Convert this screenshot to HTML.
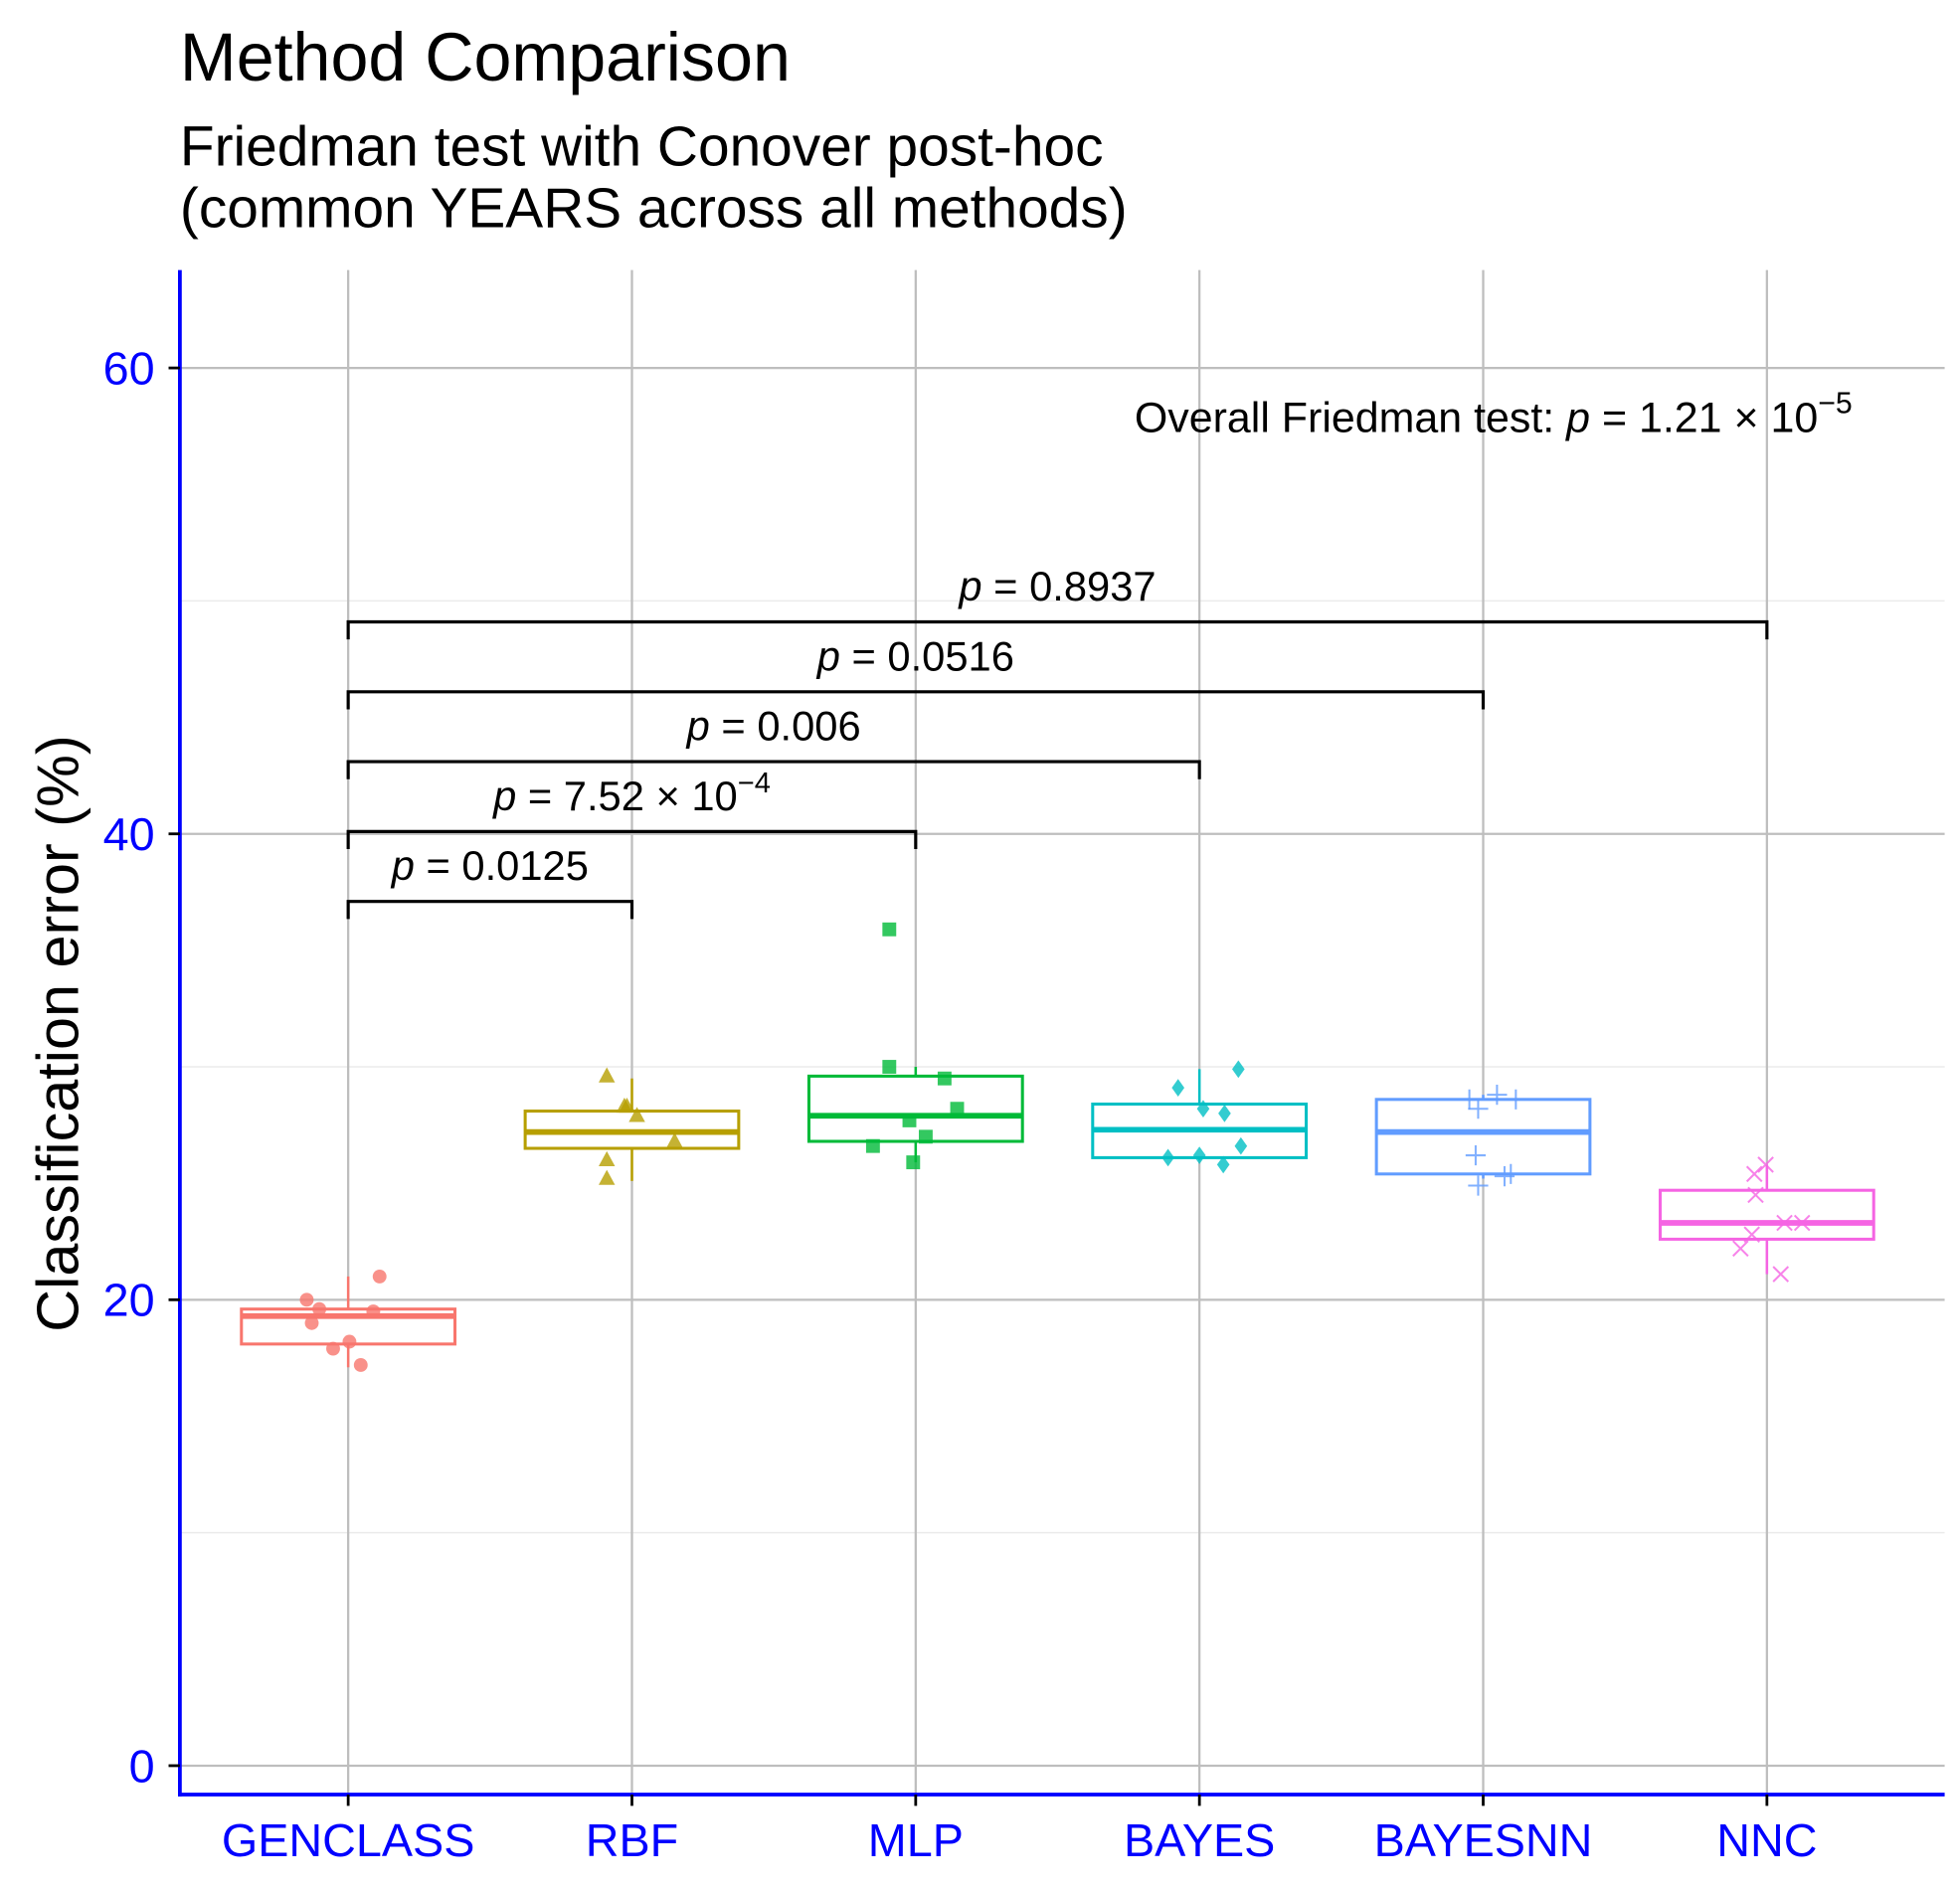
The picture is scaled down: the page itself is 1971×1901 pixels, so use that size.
<!DOCTYPE html>
<html><head><meta charset="utf-8"><style>
html,body{margin:0;padding:0;background:#fff}
svg{display:block;font-family:"Liberation Sans",Arial,sans-serif}
</style></head><body>
<svg id="chart" width="1971" height="1901" viewBox="0 0 1560 1505" xmlns="http://www.w3.org/2000/svg">
<text x="143" y="64" font-size="54" fill="#000">Method Comparison</text>
<text x="143" y="132" font-size="45" fill="#000">Friedman test with Conover post-hoc</text>
<text x="143" y="181" font-size="45" fill="#000">(common YEARS across all methods)</text>
<text transform="translate(62,823) rotate(-90)" text-anchor="middle" font-size="47" fill="#000">Classification error (%)</text>
<g id="grid"></g><g id="marks"></g><g id="axes"></g>
</svg>
<script>
const categories = ["GENCLASS","RBF","MLP","BAYES","BAYESNN","NNC"];
const colors = ["#F8766D","#B79F00","#00BA38","#00BFC4","#619CFF","#F564E3"];
const shapes = ["circle","triangle","square","diamond","plus","cross"];
const q1 = [18.1, 26.5, 26.8, 26.1, 25.4, 22.6];
const medians = [19.3, 27.2, 27.9, 27.3, 27.2, 23.3];
const q3 = [19.6, 28.1, 29.6, 28.4, 28.6, 24.7];
const whiskerLow = [17.1, 25.1, 25.9, 26.0, 25.2, 21.1];
const whiskerHigh = [21.0, 29.5, 30.0, 29.9, 28.8, 25.8];
const pointValues = [
 [20.0,19.6,19.0,19.5,21.0,17.9,18.2,17.2],
 [29.6,28.3,27.9,28.3,26.8,26.0,25.2],
 [35.9,30.0,29.5,28.2,27.7,27.0,26.6,25.9],
 [29.1,29.9,28.2,28.0,26.6,26.1,26.2,25.8],
 [28.6,28.8,28.6,28.2,26.2,25.4,24.9,25.3],
 [25.8,25.4,24.5,23.3,23.3,22.8,22.2,21.1]
];
const pointJitter = [
 [-33,-23,-29,20,25,-12,1,10],
 [-20,-6,4,-4,34,-20,-20],
 [-21,-21,23,33,-5,8,-34,-2],
 [-17,31,3,20,33,-25,0,19],
 [-11,11,26,-4,-6,22,-4,17],
 [-1,-10,-9,14,28,-12,-21,11]
];
const yTicks = [0,20,40,60];
const yMinor = [10,30,50];
const bracketTo = [5,4,3,2,1];
const bracketY = [49.1,46.1,43.1,40.1,37.1];
const bracketLabels = ["0.8937","0.0516","0.006","7.52e-4","0.0125"];

const NS="http://www.w3.org/2000/svg";
const L=143,R=1548,T=215,B=1429;
const y=v=>1406-(v/60)*(1406-293);
const x=i=>277+i*225.9;
function mk(tag,attrs,parent){const e=document.createElementNS(NS,tag);for(const k in attrs)e.setAttribute(k,attrs[k]);parent.appendChild(e);return e;}
const grid=document.getElementById('grid'),marks=document.getElementById('marks'),axes=document.getElementById('axes');

yMinor.forEach(v=>{const l=mk('line',{x1:L,x2:R,y1:y(v),y2:y(v),stroke:'#ebebeb','stroke-width':1.2},grid);

});
yTicks.forEach(v=>{const l=mk('line',{x1:L,x2:R,y1:y(v),y2:y(v),stroke:'#bebebe','stroke-width':1.8},grid);

});
categories.forEach((c,i)=>{const l=mk('line',{x1:x(i),x2:x(i),y1:T,y2:B,stroke:'#bebebe','stroke-width':1.8},grid);

});

function shape(kind,cx,cy,col,g){
 let e;
 if(kind==='circle')e=mk('circle',{cx,cy,r:5.5,fill:col,opacity:.8},g);
 else if(kind==='triangle')e=mk('polygon',{points:`${cx},${cy-7} ${cx-6.5},${cy+5} ${cx+6.5},${cy+5}`,fill:col,opacity:.8},g);
 else if(kind==='square')e=mk('rect',{x:cx-5.5,y:cy-5.5,width:11,height:11,fill:col,opacity:.8},g);
 else if(kind==='diamond')e=mk('polygon',{points:`${cx},${cy-7} ${cx+5},${cy} ${cx},${cy+7} ${cx-5},${cy}`,fill:col,opacity:.8},g);
 else if(kind==='plus')e=mk('path',{d:`M${cx-8},${cy}H${cx+8}M${cx},${cy-8}V${cy+8}`,stroke:col,'stroke-width':1.6,fill:'none',opacity:.8},g);
 else e=mk('path',{d:`M${cx-6},${cy-6}L${cx+6},${cy+6}M${cx-6},${cy+6}L${cx+6},${cy-6}`,stroke:col,'stroke-width':1.6,fill:'none',opacity:.8},g);
 return e;
}

categories.forEach((c,i)=>{
 const g=mk('g',{},marks);
 
 
 const cx=x(i),hw=85,col=colors[i];
 mk('line',{x1:cx,x2:cx,y1:y(whiskerHigh[i]),y2:y(q3[i]),stroke:col,'stroke-width':2},g);
 mk('line',{x1:cx,x2:cx,y1:y(q1[i]),y2:y(whiskerLow[i]),stroke:col,'stroke-width':2},g);
 const r=mk('rect',{x:cx-hw,y:y(q3[i]),width:2*hw,height:y(q1[i])-y(q3[i]),fill:'#fff',stroke:col,'stroke-width':2.4},g);
 
 
 const m=mk('line',{x1:cx-hw,x2:cx+hw,y1:y(medians[i]),y2:y(medians[i]),stroke:col,'stroke-width':4.5},g);
 
 
 pointValues[i].forEach((v,j)=>{const p=shape(shapes[i],cx+(pointJitter[i][j]||0),y(v),col,g);
 
 });
});

bracketTo.forEach((to,k)=>{
 const g=mk('g',{},marks);
 
 
 const yy=y(bracketY[k]),x1=x(0),x2=x(to);
 mk('path',{d:`M${x1},${yy+14}V${yy}H${x2}V${yy+14}`,stroke:'#000','stroke-width':2.5,fill:'none'},g);
 const t=mk('text',{x:(x1+x2)/2,y:yy-17,'text-anchor':'middle','font-size':33,fill:'#000'},g);
 
 
 const lab=bracketLabels[k];
 const ti=mk('tspan',{'font-style':'italic'},t);ti.textContent='p';
 if(lab.includes('e')){const [mant,ex]=lab.split('e');
  const a=mk('tspan',{},t);a.textContent=' = '+mant+' × 10';
  const s=mk('tspan',{dy:-14,'font-size':23},t);s.textContent=ex.replace('-','−');
 } else {const a=mk('tspan',{},t);a.textContent=' = '+lab;}
});

const ot=mk('text',{x:903,y:344,'font-size':34,fill:'#000'},marks);


mk('tspan',{},ot).textContent='Overall Friedman test: ';
mk('tspan',{'font-style':'italic'},ot).textContent='p';
mk('tspan',{},ot).textContent=' = 1.21 × 10';
mk('tspan',{dy:-15,'font-size':24},ot).textContent='−5';

const ya=mk('line',{x1:L,x2:L,y1:T,y2:B+1.5,stroke:'#0000ff','stroke-width':3},axes);


const xa=mk('line',{x1:L-1.5,x2:R,y1:B,y2:B,stroke:'#0000ff','stroke-width':3},axes);


yTicks.forEach(v=>{
 mk('line',{x1:L-9,x2:L,y1:y(v),y2:y(v),stroke:'#000','stroke-width':2.2},axes);
 const t=mk('text',{x:L-20,y:y(v)+13,'text-anchor':'end','font-size':37,fill:'#0000ff'},axes);
 t.textContent=v;
 
 
});
categories.forEach((c,i)=>{
 mk('line',{x1:x(i),x2:x(i),y1:B,y2:B+9,stroke:'#000','stroke-width':2.2},axes);
 const t=mk('text',{x:x(i),y:1478,'text-anchor':'middle','font-size':37,fill:'#0000ff'},axes);
 t.textContent=c;
 
 
});
</script>
</body></html>
